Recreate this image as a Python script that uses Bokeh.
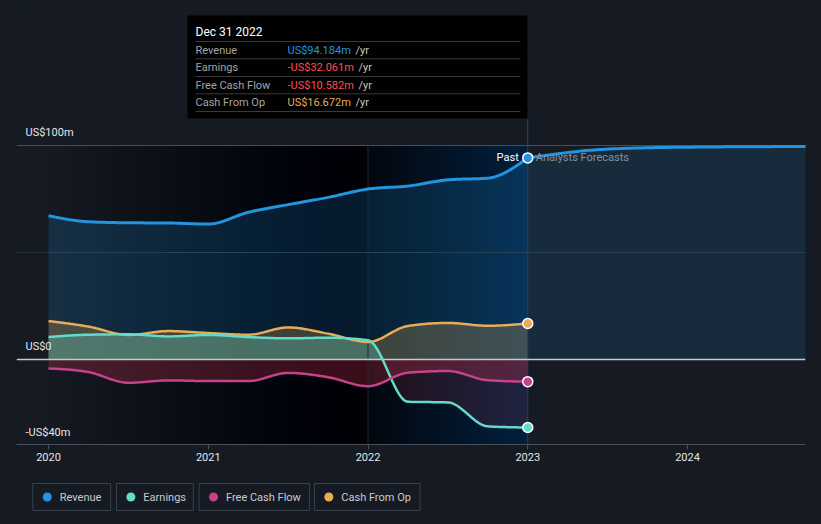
import numpy as np
from bokeh.plotting import figure
from bokeh.models import Range1d, FixedTicker
from bokeh.layouts import column
from bokeh.embed import file_html
from bokeh.resources import INLINE
from bokeh.core.properties import value

# ---------------- data ----------------
quarters = [2020.0, 2020.25, 2020.5, 2020.75, 2021.0, 2021.25, 2021.5, 2021.75,
            2022.0, 2022.25, 2022.5, 2022.75, 2023.0]
revenue = [67.1, 64.3, 63.8, 63.7, 63.2, 68.7, 72.3, 75.7, 79.6, 81.0, 83.9, 84.7, 94.184]
earnings = [10.3, 11.4, 11.6, 10.6, 11.3, 10.3, 9.7, 10.0, 8.8, -20.0, -20.3, -31.5, -32.061]
free_cash_flow = [-4.4, -6.1, -11.1, -10.0, -10.3, -10.3, -6.5, -8.5, -12.7, -6.4, -5.6, -9.9, -10.582]
cash_from_op = [17.8, 15.2, 11.3, 13.1, 12.2, 11.4, 14.8, 11.9, 8.0, 15.5, 16.9, 15.6, 16.672]

forecast_years = [2023.0, 2023.5, 2024.0, 2024.75]
revenue_forecast = [94.184, 98.3, 99.2, 99.5]

series_names = ["Revenue", "Earnings", "Free Cash Flow", "Cash From Op"]
x_ticks = [2020, 2021, 2022, 2023, 2024]
x_tick_labels = ["2020", "2021", "2022", "2023", "2024"]
y_ticks = [100, 0, -40]
y_tick_labels = ["US$100m", "US$0", "-US$40m"]
tooltip_date = "Dec 31 2022"

# ---------------- styles ----------------
BG = "#151a23"
C_REV = "#2394df"
C_EARN = "#62dcc9"
C_FCF = "#c8418b"
C_CFO = "#e9ab55"
C_NEG = "#ff4d4d"
FONT = value("Roboto")

FW, FH, FL = 789, 444, 16
XS, XE = 2020 - 32 / 159.75, 2024 + 118 / 159.75
YS, YE = -40.0, -40.0 + FH / 2.136


def X(px):
    return XS + (px - FL) * (XE - XS) / FW


def Y(py):
    return YE - py * (YE - YS) / FH


def monotone(xs, ys, n=30):
    xs = np.asarray(xs, float)
    ys = np.asarray(ys, float)
    h = np.diff(xs)
    d = np.diff(ys) / h
    k = len(xs)
    m = np.zeros(k)
    for i in range(1, k - 1):
        if d[i - 1] * d[i] <= 0:
            m[i] = 0.0
        else:
            p = (d[i - 1] * h[i] + d[i] * h[i - 1]) / (h[i - 1] + h[i])
            m[i] = (np.sign(d[i - 1]) + np.sign(d[i])) * min(abs(d[i - 1]), abs(d[i]), 0.5 * abs(p))
    if k > 2:
        m[0] = (3 * d[0] - m[1]) / 2
        m[-1] = (3 * d[-1] - m[-2]) / 2
    else:
        m[0] = m[-1] = d[0]
    ox, oy = [], []
    for i in range(k - 1):
        t = np.linspace(0, 1, n, endpoint=(i == k - 2))
        h00 = 2 * t**3 - 3 * t**2 + 1
        h10 = t**3 - 2 * t**2 + t
        h01 = -2 * t**3 + 3 * t**2
        h11 = t**3 - t**2
        ox.extend(xs[i] + t * h[i])
        oy.extend(h00 * ys[i] + h10 * h[i] * m[i] + h01 * ys[i + 1] + h11 * h[i] * m[i + 1])
    return np.array(ox), np.array(oy)


p = figure(frame_width=FW, frame_height=FH, x_range=Range1d(XS, XE), y_range=Range1d(YS, YE),
           output_backend="svg", toolbar_location=None, y_axis_location=None,
           min_border_left=16, min_border_right=16, min_border_top=0, min_border_bottom=26)
p.background_fill_color = BG
p.border_fill_color = BG
p.outline_line_color = None
p.grid.visible = False

# past overlay (dark, gradient to 2022) and last-year band (blue gradient): nested boxes
last = quarters[-1]
n_dark = 30
dark_lefts = np.linspace(quarters[0], 2022.0, n_dark, endpoint=False)
p.quad(left=dark_lefts, right=last, bottom=YS, top=100,
       fill_color="#000000", fill_alpha=[0.02] + [0.0106] * (n_dark - 1), line_color=None)
n_blue = 24
band_lefts = np.linspace(2022.0, last, n_blue, endpoint=False)
p.quad(left=band_lefts, right=last, bottom=YS, top=100,
       fill_color=C_REV, fill_alpha=[0.05] + [0.0144] * (n_blue - 1), line_color=None)

# gridlines
p.hspan(y=[100], line_color="#474d56", line_width=1)
p.hspan(y=[50], line_color="#283039", line_width=1)

# smoothed series
rx, ry = monotone(quarters, revenue)
fx, fy = monotone(forecast_years, revenue_forecast)
ex, ey = monotone(quarters, earnings)
px_, py_ = monotone(quarters, free_cash_flow)
cx, cy = monotone(quarters, cash_from_op)

p.varea(x=rx, y1=0, y2=ry, fill_color=C_REV, fill_alpha=0.18)
p.varea(x=fx, y1=0, y2=fy, fill_color=C_REV, fill_alpha=0.14)
p.varea(x=cx, y1=0, y2=cy, fill_color=C_CFO, fill_alpha=0.25)
p.varea(x=ex, y1=0, y2=np.maximum(ey, 0), fill_color=C_EARN, fill_alpha=0.3)
p.varea(x=ex, y1=0, y2=np.minimum(ey, 0), fill_color="#d03a5a", fill_alpha=0.15)
p.varea(x=px_, y1=0, y2=py_, fill_color="#d0344d", fill_alpha=0.28)

# vertical markers
p.segment(x0=[2022.0], y0=[100], x1=[2022.0], y1=[YS], line_color="#1c2836", line_width=1)
p.segment(x0=[last], y0=[Y(118)], x1=[last], y1=[YS], line_color="#1f4a72", line_width=1)

# zero line
p.hspan(y=[0], line_color="#c9c9c9", line_width=1.5)

# lines
p.line(rx, ry, line_color=C_REV, line_width=3)
p.line(fx, fy, line_color=C_REV, line_width=3)
p.line(cx, cy, line_color=C_CFO, line_width=2.5)
p.line(ex, ey, line_color=C_EARN, line_width=2.5)
p.line(px_, py_, line_color=C_FCF, line_width=2.5)

p.scatter(x=[last] * 4, y=[revenue[-1], earnings[-1], free_cash_flow[-1], cash_from_op[-1]],
          size=10, fill_color=[C_REV, C_EARN, C_FCF, C_CFO], line_color="#ffffff", line_width=1.5)

# Past / Analysts Forecasts
p.text(x=[last], y=[revenue[-1]], text=["Past"], x_offset=-9, text_align="right",
       text_baseline="middle", text_color="#ffffff", text_font=FONT, text_font_size="11px")
p.text(x=[last], y=[revenue[-1]], text=["Analysts Forecasts"], x_offset=8, text_align="left",
       text_baseline="middle", text_color="#8b9098", text_font=FONT, text_font_size="11px")

# y tick labels
p.text(x=[XS] * len(y_ticks), y=y_ticks, text=y_tick_labels, x_offset=9, y_offset=-6,
       text_align="left", text_baseline="bottom", text_color="#e6e6e6",
       text_font=FONT, text_font_size="11px")

# x axis
p.xaxis.ticker = FixedTicker(ticks=x_ticks)
p.xaxis.major_label_overrides = {t: l for t, l in zip(x_ticks, x_tick_labels)}
p.xaxis.axis_line_color = "#4a5058"
p.xaxis.major_tick_line_color = "#4a5058"
p.xaxis.major_tick_out = 5
p.xaxis.major_tick_in = 0
p.xaxis.minor_tick_line_color = None
p.xaxis.major_label_text_color = "#e6e6e6"
p.xaxis.major_label_text_font = "Roboto"
p.xaxis.major_label_text_font_size = "11px"
p.xaxis.major_label_standoff = 3

# tooltip
p.quad(left=[X(187)], right=[X(527)], top=[Y(15)], bottom=[Y(118)], fill_color="#000000",
       fill_alpha=0.95, line_color=None)
p.text(x=[X(195)], y=[Y(31)], text=[tooltip_date], text_baseline="middle", text_color="#ffffff",
       text_font=FONT, text_font_size="12px")
sep_y = [41, 58.3, 76, 93.3, 111]
p.segment(x0=[X(195)] * 5, y0=[Y(s) for s in sep_y], x1=[X(520)] * 5, y1=[Y(s) for s in sep_y],
          line_color="#3a3a3a", line_width=1)


def fmt(v):
    return ("-" if v < 0 else "") + "US$" + f"{abs(v):.3f}" + "m"


def text_w(s, size=11):
    w = {"U": 0.70, "S": 0.60, "$": 0.56, ".": 0.26, "m": 0.88, "-": 0.28}
    return sum(w.get(c, 0.5625) for c in s) * size


vals = [revenue[-1], earnings[-1], free_cash_flow[-1], cash_from_op[-1]]
pos_cols = [C_REV, C_EARN, C_FCF, C_CFO]
row_y = [49.7, 67, 84.7, 102]
for name, v, pc, ry_ in zip(series_names, vals, pos_cols, row_y):
    s = fmt(v)
    col = C_NEG if v < 0 else pc
    p.text(x=[X(195)], y=[Y(ry_)], text=[name], text_baseline="middle", text_color="#a3a3a3",
           text_font=FONT, text_font_size="11px")
    p.text(x=[X(287)], y=[Y(ry_)], text=[s], text_baseline="middle", text_color=col,
           text_font=FONT, text_font_size="11px")
    p.text(x=[X(287 + text_w(s) + 4)], y=[Y(ry_)], text=["/yr"], text_baseline="middle",
           text_color="#c8c8c8", text_font=FONT, text_font_size="11px")

# ---------------- legend ----------------
lg = figure(width=821, height=54, x_range=Range1d(0, 821), y_range=Range1d(54, 0),
            output_backend="svg", toolbar_location=None, x_axis_location=None,
            y_axis_location=None, min_border=0)
lg.background_fill_color = BG
lg.border_fill_color = BG
lg.outline_line_color = None
lg.grid.visible = False

box_left = [17, 104, 190, 310]
box_right = [98, 184, 305, 420]
lg.quad(left=box_left, right=box_right, top=13, bottom=40, fill_color=None,
        line_color="#3a414c", line_width=1)
lg.scatter(x=[b + 15 for b in box_left], y=[26.5] * 4, size=9,
           fill_color=[C_REV, C_EARN, C_FCF, C_CFO], line_color=None)
lg.text(x=[b + 28 for b in box_left], y=[26.5] * 4, text=series_names, text_baseline="middle",
        text_align="left", text_color="#c8ccd2", text_font=FONT, text_font_size="11px")

layout = column(p, lg, spacing=0)
layout.styles = {"background-color": BG}
open("out.html", "w").write(file_html(layout, INLINE))
